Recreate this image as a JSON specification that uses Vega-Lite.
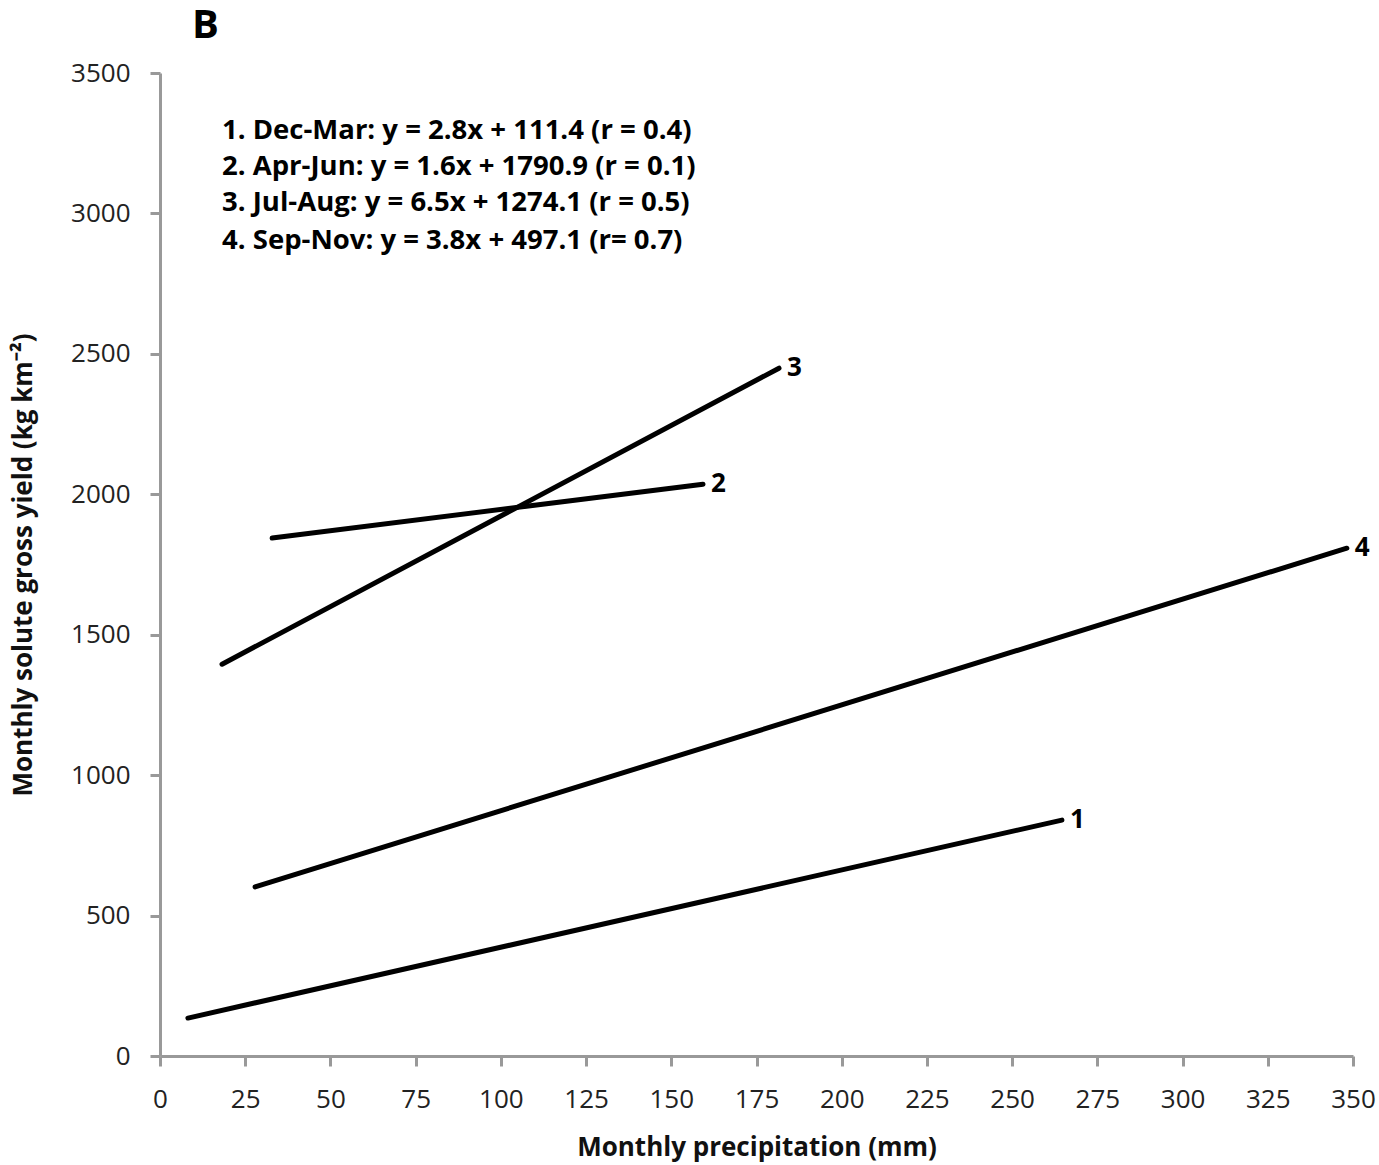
{
  "$schema": "https://vega.github.io/schema/vega-lite/v6.json",
  "width": 1193,
  "height": 983,
  "autosize": {"type": "none"},
  "padding": {"left": 160, "top": 73, "right": 26, "bottom": 109},
  "background": "white",
  "title": {"text": "B", "anchor": "start", "frame": "group", "dx": 32, "offset": 14, "fontSize": 40, "fontWeight": "bold", "font": "Open Sans", "color": "#000"},
  "config": {
    "view": {"stroke": null},
    "axis": {
      "grid": false,
      "domainColor": "#999999",
      "domainWidth": 3,
      "tickColor": "#999999",
      "tickWidth": 3,
      "tickSize": 10,
      "labelFont": "Open Sans",
      "labelFontSize": 26,
      "labelColor": "#222",
      "labelFlush": false,
      "titleFont": "Open Sans",
      "titleFontSize": 26,
      "titleFontWeight": "bold",
      "titleColor": "#111"
    }
  },
  "datasets": {
    "lines": [
      {"season": "1", "x": 8.2, "y": 135, "end": false},
      {"season": "1", "x": 264.6, "y": 840, "end": true},
      {"season": "2", "x": 32.9, "y": 1844, "end": false},
      {"season": "2", "x": 159.3, "y": 2036, "end": true},
      {"season": "3", "x": 18.2, "y": 1395, "end": false},
      {"season": "3", "x": 181.6, "y": 2449, "end": true},
      {"season": "4", "x": 27.9, "y": 602, "end": false},
      {"season": "4", "x": 348.2, "y": 1808, "end": true}
    ],
    "eq": [
      {"label": "1. Dec-Mar: y = 2.8x + 111.4 (r = 0.4)", "x": 18.2, "y": 3293},
      {"label": "2. Apr-Jun: y = 1.6x + 1790.9 (r = 0.1)", "x": 18.2, "y": 3165},
      {"label": "3. Jul-Aug: y = 6.5x + 1274.1 (r = 0.5)", "x": 18.2, "y": 3037},
      {"label": "4. Sep-Nov: y = 3.8x + 497.1 (r= 0.7)", "x": 18.2, "y": 2901}
    ]
  },
  "layer": [
    {
      "data": {"name": "lines"},
      "mark": {"type": "line", "color": "#000", "strokeWidth": 5, "strokeCap": "round"},
      "encoding": {
        "x": {"field": "x", "type": "quantitative", "scale": {"domain": [0, 350], "nice": false}, "axis": {"values": [0,25,50,75,100,125,150,175,200,225,250,275,300,325,350], "title": "Monthly precipitation (mm)", "labelPadding": 20, "titlePadding": 22}},
        "y": {"field": "y", "type": "quantitative", "scale": {"domain": [0, 3500], "nice": false}, "axis": {"values": [0,500,1000,1500,2000,2500,3000,3500], "format": "d", "title": "Monthly solute gross yield (kg km⁻²)", "labelPadding": 20, "titlePadding": 34}},
        "detail": {"field": "season"}
      }
    },
    {
      "data": {"name": "lines"},
      "transform": [{"filter": "datum.end"}],
      "mark": {"type": "text", "align": "left", "baseline": "middle", "dx": 8, "fontSize": 26, "fontWeight": "bold", "font": "Open Sans", "color": "#000"},
      "encoding": {
        "x": {"field": "x", "type": "quantitative"},
        "y": {"field": "y", "type": "quantitative"},
        "text": {"field": "season"}
      }
    },
    {
      "data": {"name": "eq"},
      "mark": {"type": "text", "align": "left", "baseline": "middle", "fontSize": 27.5, "fontWeight": "bold", "font": "Open Sans", "color": "#000"},
      "encoding": {
        "x": {"field": "x", "type": "quantitative"},
        "y": {"field": "y", "type": "quantitative"},
        "text": {"field": "label"}
      }
    }
  ]
}
